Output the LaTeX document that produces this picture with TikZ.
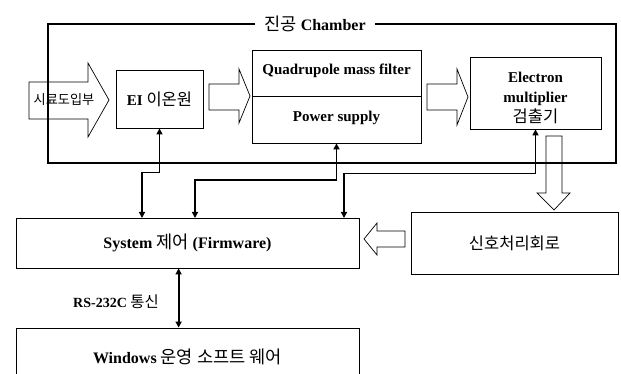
\documentclass[tikz,border=0pt]{standalone}
\usepackage{fontspec}
\setmainfont{Liberation Serif}
\newfontfamily\krfont[Scale=1.1]{Noto Sans CJK KR}
\newcommand{\hgl}[1]{{\krfont\mdseries #1}}
\usetikzlibrary{arrows.meta}

\begin{document}
\begin{tikzpicture}[x=1pt,y=-1pt,
    box/.style={draw=black,line width=0.8pt,inner sep=0pt,align=center,font=\fontsize{15}{18}\selectfont\bfseries},
    txt/.style={inner sep=0pt,align=center,font=\fontsize{15}{18}\selectfont\bfseries},
    blockarrow/.style={draw=black,line width=0.7pt},
    frame/.style={draw=black,line width=1.2pt},
    ctrl/.style={{Triangle[length=6pt,width=6pt]}-{Triangle[length=6pt,width=6pt]}}]
    \useasboundingbox (0,0) rectangle (621,374);
    \clip (0,0) rectangle (621,374);

    \node[box,minimum width=87pt,minimum height=58pt] (EI) at (159.5,99) {EI \hgl{이온원}};
    \node[box,minimum width=169pt,minimum height=93pt] (QMF) at (336.5,96.5) {};
    \node[txt] (filter) at (336.5,71) {Quadrupole mass filter};
    \node[txt] (power) at (336.5,118) {Power supply};
    \draw[line width=0.8pt] (QMF.west) -- (QMF.east);
    \node[box,minimum width=131pt,minimum height=72pt] (EM) at (535.5,93) {};
    \node[txt,font=\fontsize{15}{20}\selectfont\bfseries] (emtxt) at (535.5,98) {Electron\\multiplier\\\hgl{검출기}};
    \node[box,minimum width=207pt,minimum height=62pt] (SIG) at (514.5,243) {\hgl{신호처리회로}};
    \node[box,minimum width=343pt,minimum height=50pt,font=\fontsize{16}{19}\selectfont\bfseries] (SYS) at (187.5,243) {System \hgl{제어} (Firmware)};
    \node[box,minimum width=343pt,minimum height=62pt] (WIN) at (187.5,359) {};
    \node[txt,font=\fontsize{16}{19}\selectfont\bfseries] (wintxt) at (187.5,357) {Windows \hgl{운영 소프트 웨어}};
    \node[txt,font=\fontsize{14}{17}\selectfont\bfseries] (rs) at (116,302) {RS-232C \hgl{통신}};

    \node[inner xsep=9pt,inner ysep=0pt,font=\fontsize{16}{19}\selectfont\bfseries] (cham) at (315,24) {\hgl{진공} Chamber};
    \draw[frame] (cham.west) -| (48,163) -| (616,24) -- (cham.east);

    \draw[blockarrow] (29,82) -- (88,82) -- (88,63) -- (109,100) -- (88,137) -- (88,119) -- (29,119) -- cycle;
    \node[txt,font=\fontsize{12}{15}\selectfont] (inlet) at (64,100) {\hgl{시료도입부}};
    \draw[blockarrow] (209,84) -- (239,84) -- (239,69) -- (250,96) -- (239,123) -- (239,110) -- (209,110) -- cycle;
    \draw[blockarrow] (427,84) -- (457,84) -- (457,69) -- (468,97) -- (457,125) -- (457,110) -- (427,110) -- cycle;
    \draw[blockarrow] (546,136) -- (562,136) -- (562,193) -- (570,193) -- (554,210) -- (537,193) -- (546,193) -- cycle;
    \draw[blockarrow] (405,231) -- (377,231) -- (377,223) -- (364,239) -- (377,255) -- (377,247) -- (405,247) -- cycle;

    \coordinate (sEI) at (142,218);
    \coordinate (sQMF) at (195,218);
    \coordinate (sEM) at (344,218);
    \draw[ctrl,line width=1.2pt] (EI.south) -- ++(0,44) -| (sEI);
    \draw[ctrl,line width=1.8pt] (QMF.south) -- ++(0,37) -| (sQMF);
    \draw[ctrl,line width=1.5pt] (EM.south) -- ++(0,44) -| (sEM);
    \draw[ctrl,line width=1.8pt] ([xshift=163pt]SYS.south west) -- ([xshift=163pt]WIN.north west);
\end{tikzpicture}
\end{document}
